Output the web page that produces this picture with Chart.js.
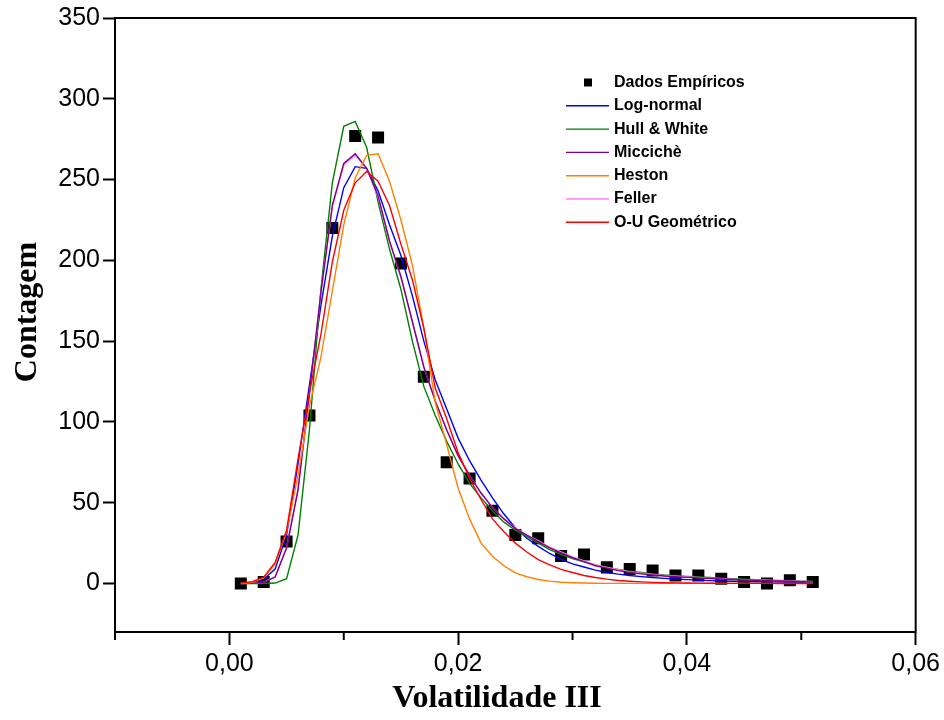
<!DOCTYPE html>
<html>
<head>
<meta charset="utf-8">
<script src="https://cdn.jsdelivr.net/npm/chart.js@4.4.1/dist/chart.umd.min.js"></script>
<style>
  html, body { margin: 0; padding: 0; background: #fff; }
  #wrap { width: 944px; height: 720px; position: relative; }
</style>
</head>
<body>
<div id="wrap"><canvas id="myChart"></canvas></div>
<script>
// empirical histogram (squares)
var dataX = [0.001, 0.003, 0.005, 0.007, 0.009, 0.011, 0.013, 0.015, 0.017, 0.019,
             0.021, 0.023, 0.025, 0.027, 0.029, 0.031, 0.033, 0.035, 0.037, 0.039,
             0.041, 0.043, 0.045, 0.047, 0.049, 0.051];
var dataY = [0, 1, 26, 104, 220, 277, 276, 198, 128, 75,
             65, 45, 30, 28, 17, 18, 10, 9, 8, 5,
             5, 3, 1, 0, 2, 1];

// fitted curves, sampled every 0.001 from 0.001 to 0.051
var curveX = [0.001, 0.002, 0.003, 0.004, 0.005, 0.006, 0.007, 0.008, 0.009, 0.010,
              0.011, 0.012, 0.013, 0.014, 0.015, 0.016, 0.017, 0.018, 0.019, 0.020,
              0.021, 0.022, 0.023, 0.024, 0.025, 0.026, 0.027, 0.028, 0.029, 0.030,
              0.031, 0.032, 0.033, 0.034, 0.035, 0.036, 0.037, 0.038, 0.039, 0.040,
              0.041, 0.042, 0.043, 0.044, 0.045, 0.046, 0.047, 0.048, 0.049, 0.050, 0.051];
var logNormal = [0, 0.5, 2.7, 9, 30, 74, 123, 172, 215, 245,
                 258, 257, 243, 222, 203, 178, 150, 126, 108, 90,
                 76, 64, 53, 43, 34.5, 28, 23, 18.6, 15, 12.2,
                 10.2, 8.3, 6.8, 5.8, 5.0, 4.3, 3.7, 3.2, 2.8, 2.4,
                 2.1, 1.8, 1.6, 1.4, 1.3, 1.1, 1.0, 0.9, 0.8, 0.8, 0.7];
var hullWhite = [0, 0, 0, 0.3, 3, 30, 95, 182, 248, 283,
                 286, 270, 236, 207, 182, 150, 122, 104, 88, 74,
                 62, 53, 45, 38, 33, 29, 25, 21, 18, 15.5,
                 13.5, 11.5, 10, 8.7, 7.6, 6.8, 6.0, 5.3, 4.8, 4.4,
                 4.1, 3.7, 3.3, 3.0, 2.7, 2.4, 2.1, 1.9, 1.7, 1.5, 1.4];
var micciche = [0, 0.2, 0.7, 4, 22, 58, 118, 180, 234, 260,
                266, 257, 240, 212, 190, 162, 134, 113, 95, 79,
                67, 56, 47, 40, 34, 30, 26, 22, 19, 16,
                13.5, 11, 9.5, 8, 6.8, 6, 5.3, 4.7, 4.2, 3.8,
                3.5, 3.1, 2.8, 2.5, 2.2, 2.0, 1.8, 1.6, 1.4, 1.2, 1.0];
var heston = [0, 0.8, 3.5, 12, 32, 67, 110, 140, 181, 222,
              251, 265, 266, 249, 225, 197, 158, 112, 86, 59,
              40, 25, 16.9, 11, 6.6, 4.2, 2.5, 1.5, 0.8, 0.5,
              0.3, 0.2, 0.1, 0.1, 0.1, 0.1, 0.1, 0.1, 0.1, 0.1,
              0.1, 0.1, 0.1, 0.1, 0.1, 0.1, 0.1, 0.1, 0.1, 0.1, 0.1];
var feller = [0, 0.2, 0.8, 4.2, 22.5, 58, 117, 180, 233, 259,
              265, 257, 239, 212, 189, 162, 134, 113, 95, 79,
              67, 56, 47, 40, 34.5, 30, 26.5, 22.5, 19.5, 16.5,
              14, 11.5, 10, 8.5, 7.2, 6.4, 5.6, 5.0, 4.5, 4.1,
              3.7, 3.3, 3.0, 2.7, 2.4, 2.2, 2.0, 1.8, 1.6, 1.4, 1.2];
var ouGeom = [0.3, 1.2, 4, 13, 33, 77, 118, 154, 199, 231,
              248, 255, 249, 234, 210, 188, 158, 121, 102, 81,
              65, 52, 40, 32, 25, 19.5, 14.8, 11.5, 8.8, 6.8,
              5.0, 3.7, 2.7, 1.9, 1.4, 1.0, 0.7, 0.5, 0.4, 0.3,
              0.25, 0.2, 0.15, 0.1, 0.1, 0.08, 0.07, 0.06, 0.05, 0.05, 0.05];

var seriesNames = ["Log-normal", "Hull & White", "Miccichè", "Heston", "Feller", "O-U Geométrico"];
var seriesValues = [logNormal, hullWhite, micciche, heston, feller, ouGeom];
var seriesColors = ["#0000ff", "#008000", "#800080", "#ff8000", "#ff80ff", "#ff0000"];
var seriesOrder = [6, 5, 3, 2, 4, 1];

var xTicks = [0, 0.02, 0.04, 0.06];
var xMinorTicks = [-0.01, 0.01, 0.03, 0.05];
var yTicks = [0, 50, 100, 150, 200, 250, 300, 350];
var xTitle = "Volatilidade III";
var yTitle = "Contagem";

Chart.defaults.color = "#000";

var datasets = [{
  type: "scatter",
  label: "Dados Empíricos",
  data: dataX.map(function (x, i) { return { x: x, y: dataY[i] }; }),
  pointStyle: "rect",
  pointRadius: 8.5,
  pointBackgroundColor: "#000",
  pointBorderWidth: 0,
  showLine: false,
  order: 10
}];
seriesValues.forEach(function (vals, k) {
  datasets.push({
    type: "line",
    label: seriesNames[k],
    data: curveX.map(function (x, i) { return { x: x, y: vals[i] }; }),
    borderColor: seriesColors[k],
    borderWidth: 1.4,
    pointRadius: 0,
    tension: 0,
    fill: false,
    order: seriesOrder[k]
  });
});

// top/right frame, minor x ticks and axis titles
var framePlugin = {
  id: "frame",
  afterDraw: function (chart) {
    var a = chart.chartArea, ctx = chart.ctx, xs = chart.scales.x;
    ctx.save();
    ctx.strokeStyle = "#000";
    ctx.lineWidth = 2;
    ctx.beginPath();
    ctx.moveTo(a.left - 1, a.top);
    ctx.lineTo(a.right, a.top);
    ctx.lineTo(a.right, a.bottom + 1);
    ctx.stroke();
    xMinorTicks.forEach(function (v) {
      var px = xs.getPixelForValue(v);
      ctx.beginPath();
      ctx.moveTo(px, a.bottom);
      ctx.lineTo(px, a.bottom + 8);
      ctx.stroke();
    });

    ctx.fillStyle = "#000";
    ctx.font = "bold 32px 'Liberation Serif', 'Times New Roman', serif";
    ctx.textAlign = "center";
    ctx.textBaseline = "middle";
    ctx.fillText(xTitle, 497, 699);
    ctx.translate(28, 312);
    ctx.rotate(-Math.PI / 2);
    ctx.fillText(yTitle, 0, 0);
    ctx.restore();
  }
};

// legend inside the plot
var legendPlugin = {
  id: "innerLegend",
  afterDraw: function (chart) {
    var ctx = chart.ctx;
    var y0 = 82.5, dy = 23.3;
    ctx.save();
    ctx.font = "bold 16px 'Liberation Sans', Arial, sans-serif";
    ctx.textBaseline = "middle";
    ctx.fillStyle = "#000";
    ctx.fillRect(584, y0 - 4, 8, 8);
    ctx.fillText(datasets[0].label, 614, y0);
    seriesNames.forEach(function (name, k) {
      var y = y0 + dy * (k + 1);
      ctx.strokeStyle = seriesColors[k];
      ctx.lineWidth = 1.4;
      ctx.beginPath();
      ctx.moveTo(566, y);
      ctx.lineTo(609, y);
      ctx.stroke();
      ctx.fillText(name, 614, y);
    });
    ctx.restore();
  }
};

var ctx = document.getElementById("myChart").getContext("2d");
var myChart = new Chart(ctx, {
  type: "scatter",
  data: { datasets: datasets },
  plugins: [framePlugin, legendPlugin],
  options: {
    responsive: true,
    maintainAspectRatio: false,
    animation: false,
    layout: { padding: { top: 18, right: 26, left: 0, bottom: 0 } },
    plugins: {
      legend: { display: false },
      tooltip: { enabled: false }
    },
    scales: {
      x: {
        type: "linear",
        min: -0.01,
        max: 0.06,
        afterBuildTicks: function (s) { s.ticks = xTicks.map(function (v) { return { value: v }; }); },
        afterFit: function (s) { s.height = 88; },
        grid: { drawOnChartArea: false, tickLength: 13, tickWidth: 2, tickColor: "#000" },
        border: { display: true, color: "#000", width: 2 },
        ticks: {
          padding: 4,
          maxRotation: 0,
          font: { family: "'Liberation Sans', Arial", size: 25 },
          callback: function (value) { return value.toFixed(2).replace(".", ","); }
        }
      },
      y: {
        type: "linear",
        min: -30,
        max: 350,
        afterBuildTicks: function (s) { s.ticks = yTicks.map(function (v) { return { value: v }; }); },
        afterFit: function (s) { s.width = 115; },
        grid: { drawOnChartArea: false, tickLength: 12, tickWidth: 2, tickColor: "#000" },
        border: { display: true, color: "#000", width: 2 },
        ticks: {
          padding: 3,
          font: { family: "'Liberation Sans', Arial", size: 25 }
        }
      }
    }
  }
});
</script>
</body>
</html>
